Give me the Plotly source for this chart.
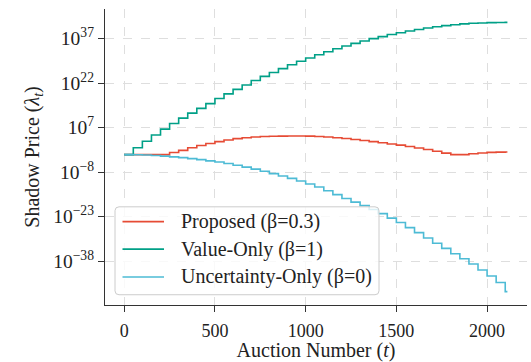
import plotly.graph_objects as go

# Shadow price is re-estimated every 50 auctions; values are log10(lambda_t) per block
update_t = list(range(0, 2101, 50))
last_t = 2112

proposed_log = [-2.1, -2.1, -2.1, -2.1, -2.1, -1.4, -0.65, 0.2, 1.0, 1.65,
                2.3, 2.85, 3.3, 3.6, 3.85, 4.0, 4.1, 4.15, 4.2, 4.2,
                4.15, 4.0, 3.85, 3.6, 3.35, 3.0, 2.65, 2.3, 1.9, 1.5,
                1.1, 0.65, 0.15, -0.35, -0.95, -1.6, -2.1, -2.1, -1.8, -1.55,
                -1.35, -1.25, -1.2]
value_only_log = [-2.1, 0.2, 2.4, 4.5, 6.5, 8.4, 10.2, 11.9, 13.5, 15.1,
                  16.8, 18.4, 19.9, 21.4, 22.9, 24.3, 25.6, 26.9, 28.2, 29.4,
                  30.5, 31.6, 32.6, 33.6, 34.5, 35.4, 36.2, 37.0, 37.7, 38.4,
                  39.0, 39.6, 40.1, 40.6, 41.0, 41.4, 41.7, 42.0, 42.2, 42.3,
                  42.4, 42.45, 42.5]
uncertainty_only_log = [-2.1, -2.15, -2.25, -2.4, -2.6, -2.85, -3.1, -3.45, -3.8, -4.2,
                        -4.6, -5.1, -5.7, -6.3, -7.0, -7.7, -8.5, -9.3, -10.1, -11.0,
                        -12.0, -13.0, -14.3, -15.6, -16.9, -18.1, -19.3, -20.6, -22.0, -23.5,
                        -25.0, -26.7, -28.4, -30.2, -32.0, -33.7, -35.5, -37.2, -39.0, -41.0,
                        -43.0, -45.2, -48.3]

series_names = ["Proposed (β=0.3)", "Value-Only (β=1)", "Uncertainty-Only (β=0)"]
series_logs = [proposed_log, value_only_log, uncertainty_only_log]
series_colors = ["#E64B35", "#00A087", "#4DBBD5"]

x_ticks = [0, 500, 1000, 1500, 2000]
y_tick_exps = [37, 22, 7, -8, -23, -38]

FONT = "Liberation Serif, Times New Roman, serif"
TEXT = "#222222"
W, H = 531, 362
ML, MR, MT, MB = 105, 4, 9, 50
PW, PH = W - ML - MR, H - MT - MB

fig = go.Figure()
x_steps = update_t + [last_t]
for name, logs, color in zip(series_names, series_logs, series_colors):
    y_vals = [10 ** v for v in logs] + [10 ** logs[-1]]
    fig.add_trace(go.Scatter(
        x=x_steps, y=y_vals, mode="lines", name=name,
        line=dict(color=color, width=1.6, shape="hv"),
        showlegend=False,
    ))

grid = dict(showgrid=True, gridcolor="#dedede", griddash="dash", gridwidth=0.8)

fig.update_xaxes(
    range=[-106, 2220], tickvals=x_ticks, ticktext=[str(v) for v in x_ticks],
    showline=True, linecolor="#333333", linewidth=1.2, mirror=False,
    ticks="outside", ticklen=6, tickcolor="#333333", ticklabelstandoff=3,
    tickfont=dict(family=FONT, size=18, color=TEXT),
    title=dict(text="Auction Number (<i>t</i>)", font=dict(family=FONT, size=20, color=TEXT), standoff=3),
    zeroline=False, **grid,
)
fig.update_yaxes(
    type="log", range=[-52.8, 47.0],
    tickvals=[10.0 ** e for e in y_tick_exps],
    ticktext=["10<sup>" + str(e).replace("-", "−") + "</sup>" for e in y_tick_exps],
    showline=True, linecolor="#333333", linewidth=1.2, mirror=False,
    ticks="outside", ticklen=6, tickcolor="#333333",
    tickfont=dict(family=FONT, size=19.5, color=TEXT),
    title=dict(text="Shadow Price (<i>λ</i><sub><i>t</i></sub>)", font=dict(family=FONT, size=20, color=TEXT), standoff=8),
    zeroline=False, **grid,
)


# Legend box, drawn in plot-area pixel space converted to paper fractions
def px(xp):
    return (xp - ML) / PW


def py(yp):
    return (H - MB - yp) / PH


def rounded_rect(x0, y0, x1, y1, r):
    rx, ry = r / PW, r / PH
    a0, a1, b0, b1 = px(x0), px(x1), py(y1), py(y0)
    return (f"M{a0 + rx},{b0} L{a1 - rx},{b0} Q{a1},{b0} {a1},{b0 + ry} "
            f"L{a1},{b1 - ry} Q{a1},{b1} {a1 - rx},{b1} "
            f"L{a0 + rx},{b1} Q{a0},{b1} {a0},{b1 - ry} "
            f"L{a0},{b0 + ry} Q{a0},{b0} {a0 + rx},{b0} Z")


shapes = [dict(type="path", xref="paper", yref="paper",
               path=rounded_rect(115, 211.5, 379, 301.5, 4),
               fillcolor="rgba(255,255,255,0.8)", line=dict(color="#cccccc", width=1),
               layer="above")]
annotations = []
row_y = [226.7, 254.8, 283.3]
for name, color, yrow in zip(series_names, series_colors, row_y):
    shapes.append(dict(type="line", xref="paper", yref="paper",
                       x0=px(122.5), x1=px(164), y0=py(yrow), y1=py(yrow),
                       line=dict(color=color, width=1.6), layer="above"))
    annotations.append(dict(xref="paper", yref="paper", x=px(179), y=py(yrow),
                            xanchor="left", yanchor="middle", showarrow=False,
                            text=name, font=dict(family=FONT, size=20, color=TEXT)))

fig.update_layout(
    width=W, height=H,
    margin=dict(l=ML, r=MR, t=MT, b=MB),
    paper_bgcolor="white", plot_bgcolor="white",
    showlegend=False,
    shapes=shapes, annotations=annotations,
)

fig.write_html("out.html")
